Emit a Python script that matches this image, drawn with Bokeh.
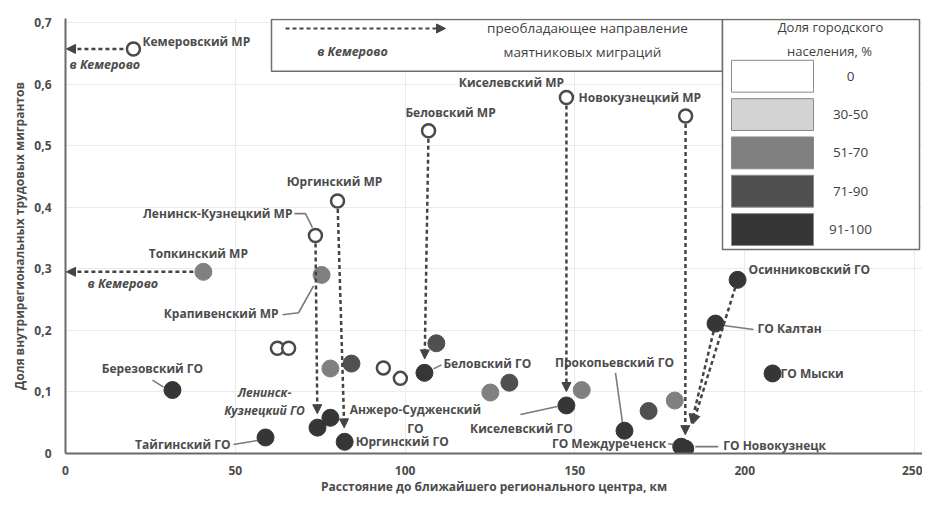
import math
from bokeh.plotting import figure
from bokeh.models import Range1d, FixedTicker, CustomJSTickFormatter, Arrow, NormalHead, ColumnDataSource
from bokeh.core.properties import value
from bokeh.embed import file_html
from bokeh.resources import INLINE

# ---------------- data ----------------
names = [
    "Кемеровский МР", "Топкинский МР", "Ленинск-Кузнецкий МР", "Юргинский МР",
    "Крапивенский МР", "Беловский МР", "Киселевский МР", "Новокузнецкий МР",
    "Березовский ГО", "Тайгинский ГО", "Ленинск-\nКузнецкий ГО", "Анжеро-Судженский\nГО",
    "Юргинский ГО", "Беловский ГО", "Киселевский ГО", "Прокопьевский ГО",
    "ГО Междуреченск", "ГО Новокузнецк", "ГО Калтан", "Осинниковский ГО", "ГО Мыски",
    "", "", "", "", "", "", "", "", "", "", "", "",
]
distance_km = [
    20.0, 40.6, 73.6, 80.1, 75.4, 106.9, 147.5, 182.6,
    31.5, 58.9, 74.2, 78.0, 82.2, 105.7, 147.5, 164.6,
    181.3, 182.5, 191.4, 197.9, 208.2,
    62.4, 65.7, 93.6, 98.6, 78.0, 84.2, 109.2, 125.1, 130.7, 152.0, 171.7, 179.4,
]
migrant_share = [
    0.657, 0.295, 0.354, 0.410, 0.290, 0.524, 0.578, 0.548,
    0.103, 0.026, 0.042, 0.058, 0.019, 0.131, 0.078, 0.037,
    0.011, 0.008, 0.211, 0.282, 0.130,
    0.171, 0.171, 0.139, 0.122, 0.138, 0.146, 0.179, 0.099, 0.115, 0.103, 0.069, 0.086,
]
urban_class = [
    0, 2, 0, 0, 2, 0, 0, 0,
    4, 4, 4, 4, 4, 4, 4, 4,
    4, 4, 4, 4, 4,
    0, 0, 0, 0, 2, 3, 3, 2, 3, 2, 3, 2,
]
class_labels = ["0", "30-50", "51-70", "71-90", "91-100"]
class_colors = ["#ffffff", "#d3d3d3", "#808080", "#505050", "#363636"]

# migration flows: (from, to); None = to Kemerovo (left edge)
flows = [(0, None), (1, None), (2, 10), (3, 12), (5, 13), (6, 14), (7, 17), (19, 17), (18, 17)]

x_ticks = [0, 50, 100, 150, 200, 250]
y_ticks = [0, 0.1, 0.2, 0.3, 0.4, 0.5, 0.6, 0.7]

# ---------------- layout / style ----------------
W, H = 922, 497
BL, BR, BT, BB = 65, 0, 18, 42
X_END, Y_END = 252.35, 0.7064
SX = (W - BL - BR) / X_END          # px per km
SY = (H - BT - BB) / Y_END          # px per unit share
OX, OY = BL, H - BB                 # canvas px of data origin


def px2x(px):
    return (px - OX) / SX


def py2y(py):
    return (OY - py) / SY


TXT = "#4c4c4c"
FONT = value("Open Sans")

p = figure(width=W, height=H, output_backend="svg", toolbar_location=None,
           x_range=Range1d(0, X_END), y_range=Range1d(0, Y_END),
           min_border_left=BL, min_border_right=BR, min_border_top=BT, min_border_bottom=BB)
p.outline_line_color = None
p.background_fill_color = "white"
p.border_fill_color = "white"

for ax in (p.xaxis[0], p.yaxis[0]):
    ax.axis_line_color = "#6a6a6a"
    ax.axis_line_width = 2
    ax.major_tick_line_color = None
    ax.minor_tick_line_color = None
    ax.major_tick_out = 0
    ax.major_tick_in = 0
    ax.minor_tick_out = 0
    ax.minor_tick_in = 0
    ax.major_label_text_font = "Open Sans"
    ax.major_label_text_font_style = "bold"
    ax.major_label_text_font_size = "12px"
    ax.major_label_text_color = TXT
    ax.axis_label_text_font = "Open Sans"
    ax.axis_label_text_font_style = "bold"
    ax.axis_label_text_font_size = "12px"
    ax.axis_label_text_color = TXT

p.xaxis.ticker = FixedTicker(ticks=x_ticks)
p.yaxis.ticker = FixedTicker(ticks=y_ticks)
p.yaxis.formatter = CustomJSTickFormatter(
    code="return tick === 0 ? '0' : tick.toFixed(1).replace('.', ',');")
p.xaxis.major_label_standoff = 12
p.yaxis.major_label_standoff = 14
p.xaxis.axis_label = "Расстояние до ближайшего регионального центра, км"
p.yaxis.axis_label = "Доля внутрирегиональных трудовых мигрантов"
p.xaxis.axis_label_standoff = 0
p.yaxis.axis_label_standoff = 3
p.xgrid.ticker = FixedTicker(ticks=x_ticks)
p.ygrid.ticker = FixedTicker(ticks=y_ticks)
p.grid.grid_line_color = "#ebebeb"
p.grid.grid_line_width = 1

# ---------------- leader lines ----------------
leaders = {
    2: [(-21, -22), (-10, -22), (-3, -8)],
    4: [(-39, 40), (-23, 38), (-8, 11)],
    8: [(-20, -10), (-9, -3)],
    9: [(-32, 7), (-8, 3)],
    13: [(9, -4), (17, -8)],
    14: [(-46, 9), (-9, 1)],
    15: [(-9, -58), (-2, -8)],
    16: [(-13, -3), (-6, -2)],
    17: [(10, -2), (33, -2)],
    18: [(8, 2), (38, 6)],
}
lxs, lys = [], []
for i, pts in leaders.items():
    lxs.append([distance_km[i] + dx / SX for dx, dy in pts])
    lys.append([migrant_share[i] - dy / SY for dx, dy in pts])
p.multi_line(lxs, lys, line_color="#7a7a7a", line_width=1.6)

# ---------------- flow arrows ----------------
ARROW_C = "#444444"
for s, t in flows:
    xs, ys = distance_km[s], migrant_share[s]
    if t is None:
        xt, yt, g0, g1 = 0.3, ys, 10, 0
    else:
        xt, yt = distance_km[t], migrant_share[t]
        g0 = 8
        g1 = 14 if s < 10 else 26
    dxp, dyp = (xt - xs) * SX, (yt - ys) * SY
    L = math.hypot(dxp, dyp)
    x0 = xs + (xt - xs) * g0 / L
    y0 = ys + (yt - ys) * g0 / L
    x1 = xt - (xt - xs) * g1 / L
    y1 = yt - (yt - ys) * g1 / L
    p.add_layout(Arrow(end=NormalHead(size=9, fill_color=ARROW_C, line_color=ARROW_C),
                       x_start=x0, y_start=y0, x_end=x1, y_end=y1,
                       line_color=ARROW_C, line_width=2.5, line_dash="4 3"))

# "в Кемерово" near arrows to the left edge
kem_notes = [(0, 4, 16), (1, 22, 12)]
for i, dx, dy in kem_notes:
    p.text(x=[0 + dx / SX], y=[migrant_share[i] - dy / SY], text=["в Кемерово"],
           text_font=FONT, text_font_style="bold italic", text_font_size="12.5px",
           text_color=TXT, text_align="left", text_baseline="middle")

# ---------------- points ----------------
fills = [class_colors[c] for c in urban_class]
lines = ["#4a4a4a" if c == 0 else class_colors[c] for c in urban_class]
sizes = [13 if c == 0 else 17 for c in urban_class]
widths = [2.5 if c == 0 else 1 for c in urban_class]
src = ColumnDataSource(dict(x=distance_km, y=migrant_share, fill=fills, line=lines,
                            size=sizes, lw=widths))
p.scatter("x", "y", source=src, size="size", fill_color="fill", line_color="line",
          line_width="lw")

# ---------------- point labels ----------------
label_pos = [
    (9, -7, "left"), (-5, -18, "center"), (-23, -22, "right"), (-3, -20, "center"),
    (-43, 39, "right"), (22, -18, "center"), (-55, -15, "center"), (-107, -19, "left"),
    (-20, -22, "center"), (-35, 7, "right"), (-53, -26, "center"), (85, 1, "center"),
    (11, 0, "left"), (19, -9, "left"), (-45, 23, "center"), (-10, -68, "center"),
    (-15, -3, "right"), (38, -3, "left"), (42, 5, "left"), (11, -10, "left"), (8, 0, "left"),
]
italic_labels = {10}
for style in ("bold", "bold italic"):
    idx = [i for i in range(len(label_pos))
           if (i in italic_labels) == (style == "bold italic")]
    ls = ColumnDataSource(dict(
        x=[distance_km[i] for i in idx], y=[migrant_share[i] for i in idx],
        text=[names[i] for i in idx], dx=[label_pos[i][0] for i in idx],
        dy=[label_pos[i][1] for i in idx], align=[label_pos[i][2] for i in idx]))
    p.text("x", "y", text="text", source=ls, x_offset="dx", y_offset="dy",
           text_align="align", text_baseline="middle", text_font=FONT,
           text_font_style=style, text_font_size="12px", text_color=TXT,
           text_line_height=1.1)

# ---------------- legend 1: direction ----------------
BOX_C = "#6f6f6f"
p.quad(left=[px2x(271)], right=[px2x(722)], top=[py2y(19)], bottom=[py2y(71)],
       fill_color="white", line_color=BOX_C, line_width=1.5)
p.add_layout(Arrow(end=NormalHead(size=9, fill_color=ARROW_C, line_color=ARROW_C),
                   x_start=px2x(285), y_start=py2y(28), x_end=px2x(445), y_end=py2y(28),
                   line_color=ARROW_C, line_width=2, line_dash="4 3"))
p.text(x=[px2x(352)], y=[py2y(51)], text=["в Кемерово"], text_font=FONT,
       text_font_style="bold italic", text_font_size="12.5px", text_color=TXT,
       text_align="center", text_baseline="middle")
p.text(x=[px2x(587), px2x(582)], y=[py2y(28), py2y(52)],
       text=["преобладающее направление", "маятниковых миграций"], text_font=FONT,
       text_font_size="13.5px", text_color="#3f3f3f", text_align="center",
       text_baseline="middle")

# ---------------- legend 2: urban share ----------------
p.quad(left=[px2x(722)], right=[px2x(919)], top=[py2y(19)], bottom=[py2y(250)],
       fill_color="white", line_color=BOX_C, line_width=1.5)
p.text(x=[px2x(830), px2x(829)], y=[py2y(27), py2y(51)],
       text=["Доля городского", "населения, %"], text_font=FONT,
       text_font_size="13px", text_color="#3f3f3f", text_align="center",
       text_baseline="middle")
sw_tops = [60 + 38.5 * k for k in range(len(class_labels))]
p.quad(left=[px2x(731)] * len(class_labels), right=[px2x(813)] * len(class_labels),
       top=[py2y(t) for t in sw_tops], bottom=[py2y(t + 32) for t in sw_tops],
       fill_color=class_colors, line_color="#8a8a8a", line_width=1)
p.text(x=[px2x(850)] * len(class_labels), y=[py2y(t + 16) for t in sw_tops],
       text=class_labels, text_font=FONT, text_font_size="13.5px", text_color="#3f3f3f",
       text_align="center", text_baseline="middle")

open("out.html", "w").write(file_html(p, INLINE))
